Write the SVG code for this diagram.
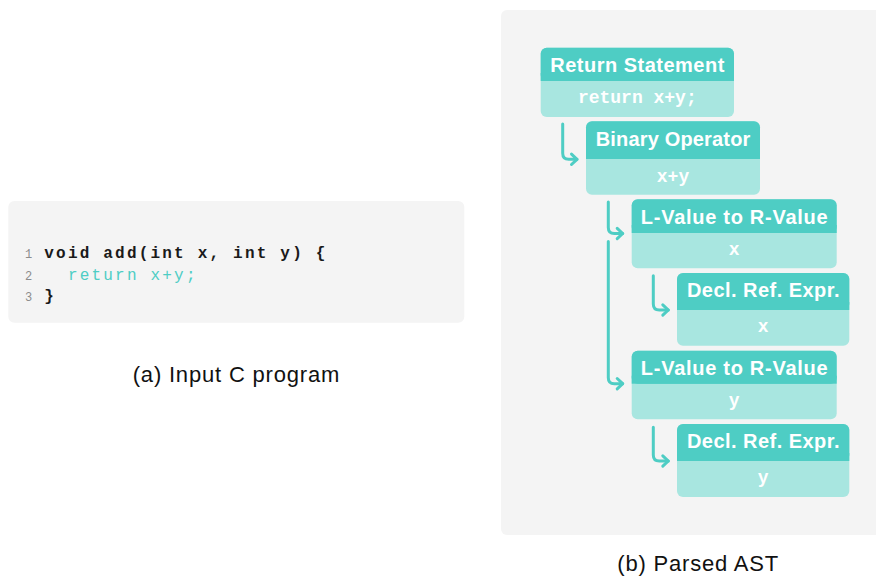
<svg xmlns="http://www.w3.org/2000/svg" width="876" height="577" viewBox="0 0 876 577">
  <defs>
    <marker id="chev" markerUnits="userSpaceOnUse" viewBox="-8 -8 11 16" refX="0" refY="0" markerWidth="11" markerHeight="16" orient="auto">
      <path d="M-5.5,-5.2 L0,0 L-5.5,5.2" fill="none" stroke="#4ECDC4" stroke-width="3" stroke-linecap="round" stroke-linejoin="round"/>
    </marker>
    <style>
      .panel { fill: #F4F4F4; }
      .hd { fill: #4ECDC4; }
      .bd { fill: #A8E6E0; }
      .ht { font-family: "Liberation Sans", Arial, sans-serif; font-weight: bold; font-size: 20px; fill: #FFFFFF; text-anchor: middle; }
      .bt { font-family: "Liberation Mono", "Courier New", monospace; font-weight: bold; font-size: 18px; fill: #FFFFFF; text-anchor: middle; }
      .code { font-family: "Liberation Mono", "Courier New", monospace; font-weight: bold; font-size: 16px; letter-spacing: 2.2px; fill: #1A1A1A; }
      .kw { fill: #4ECDC4; font-weight: normal; }
      .ln { font-family: "Liberation Mono", "Courier New", monospace; font-size: 12px; fill: #8C8C8C; }
      .cap { font-family: "Liberation Sans", Arial, sans-serif; font-size: 22px; fill: #111111; }
      .edge { fill: none; stroke: #4ECDC4; stroke-width: 3; stroke-linecap: round; marker-end: url(#chev); }
    </style>
  </defs>

  <!-- (a) source listing -->
  <g id="code-panel">
    <rect class="panel" x="8.3" y="201" width="456" height="121.7" rx="6"/>
    <text class="ln" x="25" y="258">1</text>
    <text class="ln" x="25" y="279.5">2</text>
    <text class="ln" x="25" y="301">3</text>
    <text class="code" x="44.3" y="258">void add(int x, int y) {</text>
    <text class="code kw" x="44.3" y="279.5" xml:space="preserve">  return x+y;</text>
    <text class="code" x="44.3" y="301">}</text>
  </g>
  <text class="cap" x="132.7" y="382" textLength="206.6" lengthAdjust="spacing">(a) Input C program</text>

  <!-- (b) AST panel -->
  <rect class="panel" x="501" y="10" width="390" height="525" rx="6"/>

  <g id="edges">
    <path class="edge" d="M562.7,124 V153.3 Q562.7,159.3 568.7,159.3 H577"/>
    <path class="edge" d="M608.3,202 V227.5 Q608.3,233.5 614.3,233.5 H622.7"/>
    <path class="edge" d="M608.3,241.5 V377.7 Q608.3,383.7 614.3,383.7 H622.7"/>
    <path class="edge" d="M653.3,275.7 V304 Q653.3,310 659.3,310 H668.3"/>
    <path class="edge" d="M653.3,427.3 V455 Q653.3,461 659.3,461 H668.3"/>
  </g>

  <g id="return-stmt">
    <rect class="bd" x="540.7" y="47.7" width="193.3" height="69.3" rx="6"/>
    <rect class="hd" x="540.7" y="47.7" width="193.3" height="33.3" rx="6"/>
    <rect class="hd" x="540.7" y="73" width="193.3" height="8"/>
    <text class="ht" x="637.3" y="72" textLength="174" lengthAdjust="spacing">Return Statement</text>
    <text class="bt" x="637.3" y="102.5">return x+y;</text>
  </g>

  <g id="binary-op">
    <rect class="bd" x="586" y="121.3" width="174" height="73.4" rx="6"/>
    <rect class="hd" x="586" y="121.3" width="174" height="37.7" rx="6"/>
    <rect class="hd" x="586" y="151" width="174" height="8"/>
    <text class="ht" x="673" y="146" textLength="154.7" lengthAdjust="spacing">Binary Operator</text>
    <text class="bt" x="673" y="181.5">x+y</text>
  </g>

  <g id="lvalue-x">
    <rect class="bd" x="631.7" y="199.3" width="205" height="69" rx="6"/>
    <rect class="hd" x="631.7" y="199.3" width="205" height="33.7" rx="6"/>
    <rect class="hd" x="631.7" y="225" width="205" height="8"/>
    <text class="ht" x="734.2" y="223.5" textLength="186.7" lengthAdjust="spacing">L-Value to R-Value</text>
    <text class="bt" x="734.2" y="254.5">x</text>
  </g>

  <g id="declref-x">
    <rect class="bd" x="677" y="273" width="172.3" height="72.7" rx="6"/>
    <rect class="hd" x="677" y="273" width="172.3" height="37" rx="6"/>
    <rect class="hd" x="677" y="302" width="172.3" height="8"/>
    <text class="ht" x="763.2" y="297" textLength="152.6" lengthAdjust="spacing">Decl. Ref. Expr.</text>
    <text class="bt" x="763.2" y="332.3">x</text>
  </g>

  <g id="lvalue-y">
    <rect class="bd" x="631.7" y="350.7" width="205" height="68.6" rx="6"/>
    <rect class="hd" x="631.7" y="350.7" width="205" height="33" rx="6"/>
    <rect class="hd" x="631.7" y="375.7" width="205" height="8"/>
    <text class="ht" x="734.2" y="374.5" textLength="186.7" lengthAdjust="spacing">L-Value to R-Value</text>
    <text class="bt" x="734.2" y="405.7">y</text>
  </g>

  <g id="declref-y">
    <rect class="bd" x="677" y="424" width="172.3" height="73" rx="6"/>
    <rect class="hd" x="677" y="424" width="172.3" height="37" rx="6"/>
    <rect class="hd" x="677" y="453" width="172.3" height="8"/>
    <text class="ht" x="763.2" y="448.3" textLength="152.6" lengthAdjust="spacing">Decl. Ref. Expr.</text>
    <text class="bt" x="763.2" y="483.3">y</text>
  </g>

  <text class="cap" x="617.3" y="571" textLength="161" lengthAdjust="spacing">(b) Parsed AST</text>
</svg>
